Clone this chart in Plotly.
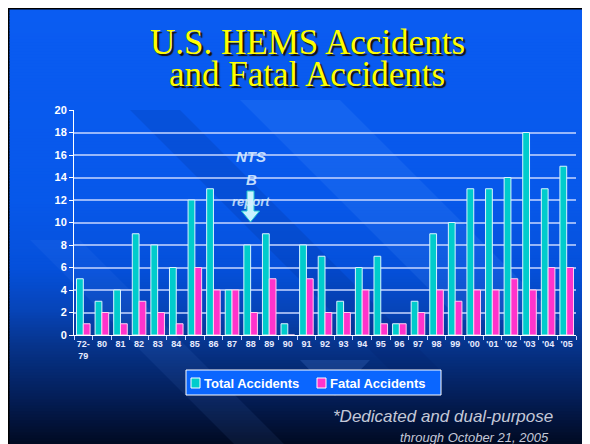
import plotly.graph_objects as go

categories = ["72-<br>79", "80", "81", "82", "83", "84", "85", "86", "87", "88", "89", "90", "91",
              "92", "93", "94", "95", "96", "97", "98", "99", "'00", "'01", "'02", "'03", "'04", "'05"]
total_accidents = [5, 3, 4, 9, 8, 6, 12, 13, 4, 8, 9, 1, 8, 7, 3, 6, 7, 1, 3, 9, 10, 13, 13, 14, 18, 13, 15]
fatal_accidents = [1, 2, 1, 3, 2, 1, 6, 4, 4, 2, 5, 0, 5, 2, 2, 4, 1, 1, 2, 4, 3, 4, 4, 5, 4, 6, 6]
series_names = ["Total Accidents", "Fatal Accidents"]
series_colors = ["#00cccc", "#ff33cc"]
y_ticks = list(range(0, 21, 2))

OFF = 8  # page body margin
W, H = 590 - OFF, 444 - OFF
L, R, T, B = 74, 576, 110, 335  # plot area in reference pixels


def px(x):
    return (x - L) / (R - L)


def py(y):
    return (B - y) / (B - T)


def hexc(c):
    return tuple(int(c[i:i + 2], 16) for i in (1, 3, 5))


def lerp(c1, c2, t):
    a, b = hexc(c1), hexc(c2)
    return "rgb(%d,%d,%d)" % tuple(round(a[i] + (b[i] - a[i]) * t) for i in range(3))


stops = [(8, "#0a5cf2"), (200, "#0758ea"), (270, "#0550da"), (310, "#0644b8"),
         (345, "#06348c"), (395, "#041f5a"), (444, "#010a22")]

shapes = []
shapes.append(dict(type="rect", xref="paper", yref="paper", x0=px(OFF), x1=px(590), y0=py(OFF), y1=py(444),
                   fillcolor="black", line=dict(width=0), layer="below"))
step = 3
y = OFF + 1.5
while y < 444:
    y2 = min(y + step, 444)
    mid = (y + y2) / 2
    col = stops[-1][1]
    for (a, ca), (b, cb) in zip(stops[:-1], stops[1:]):
        if a <= mid <= b:
            col = lerp(ca, cb, (mid - a) / (b - a))
            break
    shapes.append(dict(type="rect", xref="paper", yref="paper", x0=px(OFF + 1.5), x1=px(590), y0=py(y),
                       y1=py(min(y2 + 0.6, 444)), fillcolor=col, line=dict(width=0), layer="below"))
    y = y2


def poly(pts, color):
    d = "M " + " L ".join("%f,%f" % (px(a), py(b)) for a, b in pts) + " Z"
    return dict(type="path", xref="paper", yref="paper", path=d, fillcolor=color, line=dict(width=0), layer="below")


shapes.append(poly([(240, 100), (340, 100), (560, 320), (460, 320)], "rgba(110,170,255,0.12)"))
shapes.append(poly([(130, 110), (180, 110), (440, 370), (390, 370)], "rgba(0,20,90,0.13)"))
shapes.append(poly([(30, 240), (80, 240), (284, 444), (234, 444)], "rgba(110,170,255,0.08)"))
shapes.append(poly([(300, 360), (370, 360), (335, 396)], "rgba(110,170,255,0.16)"))

ax = 250.5
arrow = [(ax - 3.5, 191), (ax + 3.5, 191), (ax + 3.5, 211), (ax + 9, 211), (ax, 222), (ax - 9, 211), (ax - 3.5, 211)]
d = "M " + " L ".join("%f,%f" % (px(a), py(b)) for a, b in arrow) + " Z"
shapes.append(dict(type="path", xref="paper", yref="paper", path=d, fillcolor="#c8f2ff",
                   line=dict(color="#20c8d0", width=1), layer="above"))

# legend box and swatches
shapes.append(dict(type="rect", xref="paper", yref="paper", x0=px(186), x1=px(441), y0=py(370), y1=py(395),
                   fillcolor="#0a66ff", line=dict(color="white", width=1), layer="above"))
for sx, colr in zip([191, 317], series_colors):
    shapes.append(dict(type="rect", xref="paper", yref="paper", x0=px(sx), x1=px(sx + 9), y0=py(378),
                       y1=py(388), fillcolor=colr, line=dict(color="white", width=1), layer="above"))

fig = go.Figure()
fig.add_trace(go.Bar(x=categories, y=total_accidents, name=series_names[0],
                     marker=dict(color=series_colors[0], line=dict(color="#d8f4ff", width=1))))
fig.add_trace(go.Bar(x=categories, y=fatal_accidents, name=series_names[1],
                     marker=dict(color=series_colors[1], line=dict(color="#ffd0f0", width=1))))


def note(text, x, y, font, xanchor="center"):
    return dict(text=text, x=px(x), y=py(y), xref="paper", yref="paper", showarrow=False,
                xanchor=xanchor, yanchor="middle", font=font)


title_font = dict(family="Liberation Serif, Times New Roman, serif", size=35, color="#ffff00",
                  shadow="2px 2px 1px #1a1000")
sans = "Liberation Sans, Arial"
ntsb = dict(family=sans, size=15, color="rgba(215,235,255,0.92)")
foot = dict(family=sans, size=17, color="#c4c8d8")
legend_font = dict(family=sans, size=13, color="white", weight="bold")
ann = [
    note("U.S. HEMS Accidents", 307, 42, title_font),
    note("and Fatal Accidents", 307, 74, title_font),
    note("<b><i>NTS</i></b>", 251, 156, ntsb),
    note("<b><i>B</i></b>", 251, 179, ntsb),
    note("<b><i>report</i></b>", 251, 201, dict(family=sans, size=13, color="rgba(215,235,255,0.85)")),
    note("<i>*Dedicated and dual-purpose</i>", 555, 416, foot, "right"),
    note("<i>through October 21, 2005</i>", 551, 437, dict(family=sans, size=13, color="#c4c8d8"), "right"),
    note(series_names[0], 202, 383, legend_font, "left"),
    note(series_names[1], 328, 383, legend_font, "left"),
]

fig.update_layout(
    width=W, height=H,
    margin=dict(l=L - OFF, r=590 - R, t=T - OFF, b=444 - B),
    paper_bgcolor="white", plot_bgcolor="rgba(0,0,0,0)",
    barmode="group", bargap=0.27, bargroupgap=0,
    shapes=shapes, annotations=ann,
    showlegend=False,
    xaxis=dict(type="category", range=[-0.5, len(categories) - 0.5], showgrid=False,
               ticks="outside", tickson="boundaries", ticklen=4, tickcolor="#c8d0ff",
               showline=True, linecolor="white", linewidth=1,
               tickfont=dict(family=sans, size=9, color="#e8ecff", weight="bold"),
               tickangle=0, fixedrange=True),
    yaxis=dict(range=[0, 20], tickvals=y_ticks, showgrid=True, gridcolor="rgba(200,215,255,0.75)",
               gridwidth=2, zeroline=False, showline=True, linecolor="white", linewidth=1,
               ticks="outside", ticklen=4, tickcolor="white",
               tickfont=dict(family=sans, size=11, color="white", weight="bold"),
               fixedrange=True),
)

fig.write_html("out.html")
